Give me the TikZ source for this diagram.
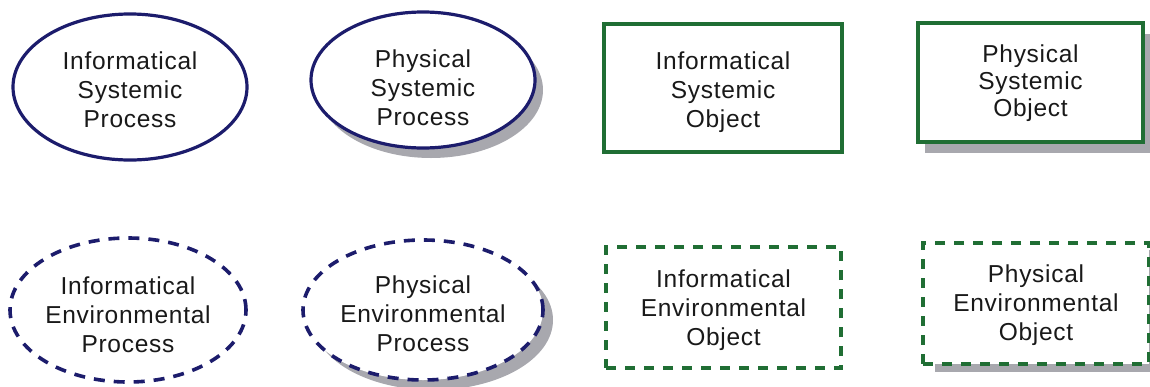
\documentclass[tikz,border=0pt]{standalone}
\usepackage{fontspec}
\setmainfont[LetterSpace=3]{Liberation Sans}
\usetikzlibrary{shapes.geometric}
\definecolor{navy}{RGB}{28,28,108}
\definecolor{dgreen}{RGB}{32,110,52}
\definecolor{shadowgray}{RGB}{168,168,174}
\begin{document}
\begin{tikzpicture}[x=1pt,y=-1pt,
  lbl/.style={align=center,font=\fontsize{24.5}{29}\selectfont,text=black!90,inner sep=0pt},
  proc/.style={ellipse,draw=navy,line width=3.2pt,fill=white,inner sep=0pt},
  obj/.style={rectangle,draw=dgreen,line width=3.2pt,fill=white,inner sep=0pt},
  envp/.style={line width=3.6pt,dash pattern=on 11pt off 9pt},
  envo/.style={line width=3.6pt,dash pattern=on 10pt off 9pt},
]
\useasboundingbox (0,0) rectangle (1150,386);
% Informatical Systemic Process
\node[proc,minimum width=234pt,minimum height=146pt] (isp) at (130,87) {};
\node[lbl] (ispt) at ([yshift=-3pt]isp.center) {Informatical\\Systemic\\Process};
% Physical Systemic Process
\fill[shadowgray] (431,90) ellipse [x radius=112, y radius=68];
\node[proc,minimum width=224pt,minimum height=136pt] (psp) at (423,80) {};
\node[lbl] (pspt) at ([yshift=-8pt]psp.center) {Physical\\Systemic\\Process};
% Informatical Systemic Object
\node[obj,minimum width=238pt,minimum height=128pt] (iso) at (723,88) {};
\node[lbl] (isot) at ([yshift=-4pt]iso.center) {Informatical\\Systemic\\Object};
% Physical Systemic Object
\fill[shadowgray] (925,34) rectangle (1150,153);
\node[obj,minimum width=225pt,minimum height=119pt] (pso) at (1030.5,82.5) {};
\node[lbl,font=\fontsize{24.5}{27}\selectfont] (psot) at ([yshift=-1pt]pso.center) {Physical\\Systemic\\Object};
% Informatical Environmental Process
\node[proc,envp,minimum width=236pt,minimum height=144pt] (iep) at (128,310) {};
\node[lbl] (iept) at ([yshift=-5pt]iep.center) {Informatical\\Environmental\\Process};
% Physical Environmental Process
\fill[shadowgray] (433,320) ellipse [x radius=120, y radius=70];
\node[proc,envp,minimum width=240pt,minimum height=140pt] (pep) at (423,310) {};
\node[lbl] (pept) at ([yshift=-4pt]pep.center) {Physical\\Environmental\\Process};
% Informatical Environmental Object
\node[obj,envo,minimum width=235pt,minimum height=121pt] (ieo) at (723.5,307.5) {};
\node[lbl] (ieot) at ([yshift=-3pt]ieo.center) {Informatical\\Environmental\\Object};
% Physical Environmental Object
\fill[shadowgray] (935,250) rectangle (1160,372);
\node[obj,envo,minimum width=226pt,minimum height=121pt] (peo) at (1036,303.5) {};
\node[lbl] (peot) at ([yshift=-2pt]peo.center) {Physical\\Environmental\\Object};
\end{tikzpicture}
\end{document}
